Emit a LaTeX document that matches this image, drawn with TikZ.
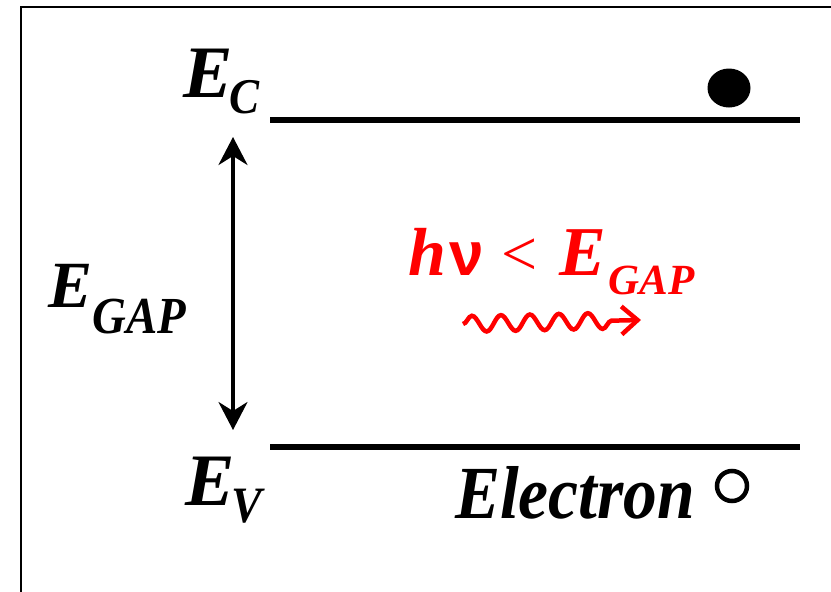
\documentclass[tikz,border=0pt]{standalone}
\usepackage{fontspec}
\setmainfont{Liberation Serif}
\newfontfamily\nufont{Liberation Sans}
\usetikzlibrary{arrows.meta,decorations.pathmorphing,shapes.geometric}
\newcommand{\fsz}[1]{\fontsize{#1}{#1}\selectfont}
\newcommand{\squash}[1]{\scalebox{0.9}[1]{#1}}
\tikzset{
  % --- labels ----------------------------------------------------------------
  lab/.style={anchor=base west,inner sep=0pt,font=\bfseries\itshape},
  redlab/.style={lab,text=red},
  % --- levels and arrows -----------------------------------------------------
  level/.style={line width=5.5pt},
  gaparr/.style={{Stealth[length=28pt,width=29pt,inset=9pt]}-{Stealth[length=28pt,width=29pt,inset=9pt]},
                 line width=3.5pt},
  photon/.style={red,line width=4.5pt,-{Straight Barb[length=16pt,width=28pt]},
                 decorate,decoration={snake,amplitude=8pt,segment length=29pt,
                 post length=18pt}},
}

\begin{document}
\begin{tikzpicture}[x=1pt,y=-1pt]
  \useasboundingbox (0,0) rectangle (831,592);
  \fill[white] (0,0) rectangle (831,592);
  % frame
  \draw[line width=1.5pt] (21,592) -- (21,7) -- (831,7);

  % band edges
  \coordinate (cl) at (270,120);
  \coordinate (cr) at (800,120);
  \coordinate (vl) at (270,447);
  \coordinate (vr) at (800,447);
  \draw[level] (cl) -- (cr);
  \draw[level] (vl) -- (vr);

  % labels
  \node[lab] (ec) at (183,97)
    {\fsz{74}E\kern-3pt\raisebox{-16pt}{\squash{\fsz{50}C}}};
  \node[lab] (ev) at (185,505)
    {\fsz{74}E\kern-3pt\raisebox{-17pt}{\squash{\fsz{51}V}}};
  \node[lab] (egap) at (48,307)
    {\fsz{66}E\raisebox{-26pt}{\squash{\fsz{52}GAP}}};
  \node[lab] (elec) at (455,518) {\squash{\fsz{75}Electron}};

  % photon energy
  \node[redlab] (hnu) at (408,275)
    {\fsz{68}h\kern3pt{\nufont\bfseries\upshape\fsz{62}ν}\kern18pt%
     {\upshape\mdseries\fsz{64}<}\kern22pt%
     \fsz{70}E\kern2pt\raisebox{-19pt}{\fsz{43}GAP}};

  % carriers
  \node[ellipse,fill=black,minimum width=43pt,minimum height=39pt,inner sep=0pt]
    (filled) at (729,88) {};
  \node[circle,draw=black,line width=4.5pt,minimum size=30pt,inner sep=0pt]
    (hole) at (732,486) {};

  % gap arrow
  \coordinate (gtop) at (233,137);
  \coordinate (gbot) at (233,430);
  \draw[gaparr] (gtop) -- (gbot);

  % photon
  \coordinate (ph0) at (463,324);
  \coordinate (ph1) at (641,320);
  \draw[photon] (ph0) -- (ph1);
\end{tikzpicture}
\end{document}
